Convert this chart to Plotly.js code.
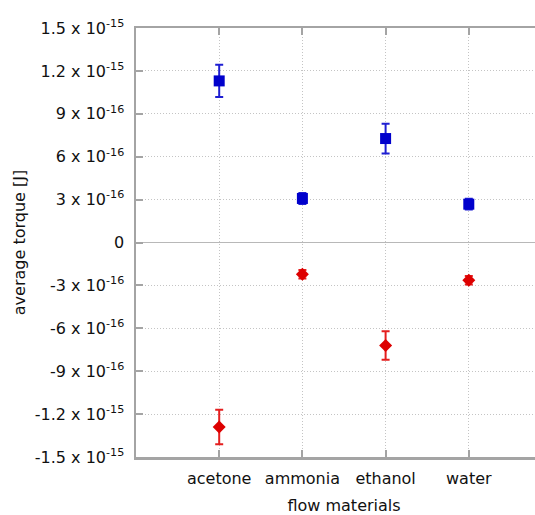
<!DOCTYPE html>
<html>
<head>
<meta charset="utf-8">
<script src="https://cdn.plot.ly/plotly-3.0.1.min.js"></script>
<style>
html, body { margin: 0; padding: 0; overflow: hidden; background: #fff; }
#chart { width: 553px; height: 515px; }
</style>
</head>
<body>
<div id="chart"></div>
<script>
const categories = ["acetone", "ammonia", "ethanol", "water"];
const positiveValues = [1.13e-15, 3.08e-16, 7.27e-16, 2.68e-16];
const positiveErrors = [1.13e-16, 0.38e-16, 1.04e-16, 0.38e-16];
const negativeValues = [-1.29e-15, -2.22e-16, -7.2e-16, -2.64e-16];
const negativeErrors = [1.21e-16, 0.3e-16, 1.0e-16, 0.3e-16];
const yTickValues = [1.5e-15, 1.2e-15, 9e-16, 6e-16, 3e-16, 0, -3e-16, -6e-16, -9e-16, -1.2e-15, -1.5e-15];
const yTickLabels = ["1.5 x 10<sup>-15</sup>", "1.2 x 10<sup>-15</sup>", "9 x 10<sup>-16</sup>", "6 x 10<sup>-16</sup>", "3 x 10<sup>-16</sup>", "0", "-3 x 10<sup>-16</sup>", "-6 x 10<sup>-16</sup>", "-9 x 10<sup>-16</sup>", "-1.2 x 10<sup>-15</sup>", "-1.5 x 10<sup>-15</sup>"];

const xPos = categories.map((c, i) => i + 1);

const blue = "rgb(0,0,204)";
const red = "rgb(221,0,0)";

const traces = [
  {
    x: xPos, y: positiveValues, type: "scatter", mode: "markers",
    marker: { symbol: "square", size: 11, color: blue },
    error_y: { type: "data", array: positiveErrors, visible: true, color: "rgb(30,30,210)", thickness: 2, width: 4 },
    hoverinfo: "skip", showlegend: false
  },
  {
    x: xPos, y: negativeValues, type: "scatter", mode: "markers",
    marker: { symbol: "diamond", size: 10, color: red },
    error_y: { type: "data", array: negativeErrors, visible: true, color: "rgb(228,30,30)", thickness: 2, width: 4 },
    hoverinfo: "skip", showlegend: false
  }
];

const font = { family: "DejaVu Sans, sans-serif", size: 16, color: "#111" };
const axisGray = "#a4a4a4";

const layout = {
  width: 553, height: 515,
  margin: { l: 136, r: 1, t: 28, b: 58 },
  paper_bgcolor: "#fff", plot_bgcolor: "#fff",
  font: font,
  showlegend: false,
  xaxis: {
    range: [0, 5],
    tickvals: xPos, ticktext: categories,
    showgrid: true, gridcolor: "#c4c4c4", griddash: "1px,2px", gridwidth: 1,
    zeroline: false,
    showline: true, linecolor: axisGray, linewidth: 2.5, mirror: "ticks",
    ticks: "inside", ticklen: 7, tickwidth: 2, tickcolor: axisGray,
    tickfont: font, ticklabelstandoff: 5,
    title: { text: "flow materials", font: font, standoff: 21 },
    automargin: false
  },
  yaxis: {
    range: [-1.5e-15, 1.5e-15],
    tickvals: yTickValues, ticktext: yTickLabels,
    showgrid: true, gridcolor: "#c4c4c4", griddash: "1px,2px", gridwidth: 1,
    zeroline: true, zerolinecolor: "#b8b8b8", zerolinewidth: 1.5,
    showline: true, linecolor: axisGray, linewidth: 2.5, mirror: "ticks",
    ticks: "inside", ticklen: 7, tickwidth: 2, tickcolor: axisGray,
    tickfont: font, ticklabelstandoff: 6,
    title: { text: "average torque [J]", font: font, standoff: 5 },
    automargin: false
  }
};

Plotly.newPlot("chart", traces, layout, { displayModeBar: false, staticPlot: true });
</script>
</body>
</html>
